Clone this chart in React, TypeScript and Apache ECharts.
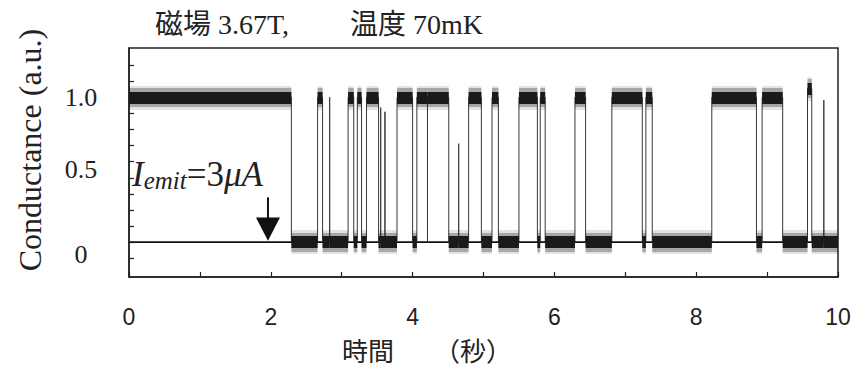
import React, { useEffect, useRef } from 'react';
import * as echarts from 'echarts';

// Switching times (s): level[i] holds between edges[i] and edges[i+1]
// Zero-length intervals are brief spikes/dips.
const edges = [
  0, 2.29, 2.66, 2.73, 2.83, 2.83, 3.09, 3.17, 3.22, 3.28, 3.35, 3.52, 3.55, 3.55,
  3.61, 3.61, 3.78, 4.0, 4.06, 4.21, 4.21, 4.51, 4.65, 4.65, 4.79, 4.97, 5.12, 5.21,
  5.5, 5.76, 5.8, 5.87, 6.29, 6.44, 6.81, 7.24, 7.29, 7.38, 8.22, 8.85, 8.93, 9.22,
  9.57, 9.63, 9.8, 9.8, 10.0,
];
const levels = [
  1, 0, 1, 0, 1.0, 0, 1, 0, 1, 0, 1, 0, 0.93, 0, 0.9, 0, 1, 0, 1, 0, 1, 0, 0.68, 0,
  1, 0, 1, 0, 1, 0, 1, 0, 1, 0, 1, 0, 1, 0, 1, 0, 1, 0, 1.06, 0, 0.98, 0,
];
const baselineX = [0, 10];
const xTickLabels = ['0', '2', '4', '6', '8', '10'];
const yLabelValues = [0, 0.5, 1.0];
const yTickValues = [-0.111, 0, 0.111, 0.222, 0.333, 0.444, 0.556, 0.667, 0.778, 0.889, 1.0, 1.111, 1.222];
const arrowX = 1.96;
const arrowTop = 0.31;
const arrowHeadBase = 0.17;
const arrowTip = 0.01;

const INK = '#222';
const SERIF = "'Liberation Serif', 'Noto Sans CJK JP', serif";

export default function App() {
  const ref = useRef<HTMLDivElement>(null);
  useEffect(() => {
    const chart = echarts.init(ref.current!, null, { renderer: 'svg' });

    const trace: number[][] = [];
    const bands: any[] = [];
    for (let i = 0; i < levels.length; i++) {
      trace.push([edges[i], levels[i]]);
      trace.push([edges[i + 1], levels[i]]);
      if (edges[i + 1] > edges[i]) {
        bands.push({ coords: [[edges[i], levels[i]], [edges[i + 1], levels[i]]] });
      }
    }

    const bandSeries = (width: number, opacity: number, z: number) => ({
      type: 'lines', coordinateSystem: 'cartesian2d', data: bands, z,
      lineStyle: { color: '#1a1a1a', width, opacity },
    });

    const option: any = {
      animation: false,
      backgroundColor: '#ffffff',
      grid: {
        left: 129, right: 26, top: 48, bottom: 90,
        show: true, borderColor: INK, borderWidth: 1.5, backgroundColor: 'transparent',
      },
      xAxis: {
        type: 'value', min: 0, max: 10, interval: 1,
        axisLine: { show: true, onZero: false, lineStyle: { color: INK, width: 1.5 } },
        axisTick: { inside: true, length: 5, lineStyle: { color: INK, width: 1.2 } },
        axisLabel: {
          formatter: (v: number) => (xTickLabels.includes(String(v)) ? String(v) : ''),
          fontFamily: "'Liberation Sans', Arial, sans-serif", fontSize: 23, color: INK, margin: 28,
        },
        splitLine: { show: false },
      },
      yAxis: {
        type: 'value', min: -0.24, max: 1.34,
        axisLine: { show: true, onZero: false, lineStyle: { color: INK, width: 1.5 } },
        axisTick: { inside: true, length: 5, customValues: yTickValues, lineStyle: { color: INK, width: 1.2 } },
        axisLabel: {
          customValues: yLabelValues,
          formatter: (v: number) => (v === 0 ? '{z|0}' : v.toFixed(1)),
          align: 'center', margin: 48,
          fontFamily: SERIF, fontSize: 26, color: INK,
          rich: { z: { fontFamily: SERIF, fontSize: 26, color: INK, padding: [24, 0, 0, 0] } },
        },
        splitLine: { show: false },
      },
      series: [
        {
          type: 'line', data: baselineX.map((x) => [x, 0]), symbol: 'none', z: 1,
          lineStyle: { color: '#111', width: 1.8 },
        },
        {
          type: 'line', data: trace, symbol: 'none', z: 2,
          lineStyle: { color: '#3a3a3a', width: 1 },
        },
        bandSeries(24, 0.12, 3),
        bandSeries(19, 0.3, 4),
        bandSeries(12, 1, 5),
      ],
    };
    chart.setOption(option);

    const [ax, yTop] = chart.convertToPixel({ gridIndex: 0 } as any, [arrowX, arrowTop]) as number[];
    const [, yBase] = chart.convertToPixel({ gridIndex: 0 } as any, [arrowX, arrowHeadBase]) as number[];
    const [, yTip] = chart.convertToPixel({ gridIndex: 0 } as any, [arrowX, arrowTip]) as number[];

    chart.setOption({
      graphic: [
        {
          type: 'text', x: 155, y: 24,
          style: { text: '磁場 3.67T,', font: `28px ${SERIF}`, fill: INK, verticalAlign: 'middle' },
        },
        {
          type: 'text', x: 350, y: 24,
          style: { text: '温度 70mK', font: `28px ${SERIF}`, fill: INK, verticalAlign: 'middle' },
        },
        {
          type: 'text', x: 342, y: 349,
          style: { text: '時間', font: "26px 'Noto Sans CJK JP', sans-serif", fill: INK, verticalAlign: 'middle' },
        },
        {
          type: 'text', x: 434, y: 349,
          style: { text: '（秒）', font: "26px 'Noto Sans CJK JP', sans-serif", fill: INK, verticalAlign: 'middle' },
        },
        {
          type: 'text', x: 30, y: 150, rotation: Math.PI / 2,
          style: { text: 'Conductance (a.u.)', font: `32px ${SERIF}`, fill: INK, align: 'center', verticalAlign: 'middle' },
        },
        {
          type: 'text', x: 132, y: 174,
          style: {
            text: '{i|I}{s|emit}{n|=3}{i|μA}',
            fill: INK,
            verticalAlign: 'middle',
            rich: {
              i: { fontFamily: SERIF, fontStyle: 'italic', fontSize: 35, lineHeight: 38, fill: INK },
              s: { fontFamily: SERIF, fontStyle: 'italic', fontSize: 25, lineHeight: 18, verticalAlign: 'bottom', fill: INK },
              n: { fontFamily: SERIF, fontSize: 35, lineHeight: 38, fill: INK },
            },
          },
        },
        {
          type: 'line', shape: { x1: ax, y1: yTop, x2: ax, y2: yBase + 1 },
          style: { stroke: '#111', lineWidth: 2 },
        },
        {
          type: 'polygon', shape: { points: [[ax - 12, yBase], [ax + 12, yBase], [ax, yTip]] },
          style: { fill: '#111' },
        },
      ],
    });

    return () => chart.dispose();
  }, []);
  return <div ref={ref} style={{ position: 'fixed', left: 0, top: 0, width: 864, height: 367 }} />;
}
